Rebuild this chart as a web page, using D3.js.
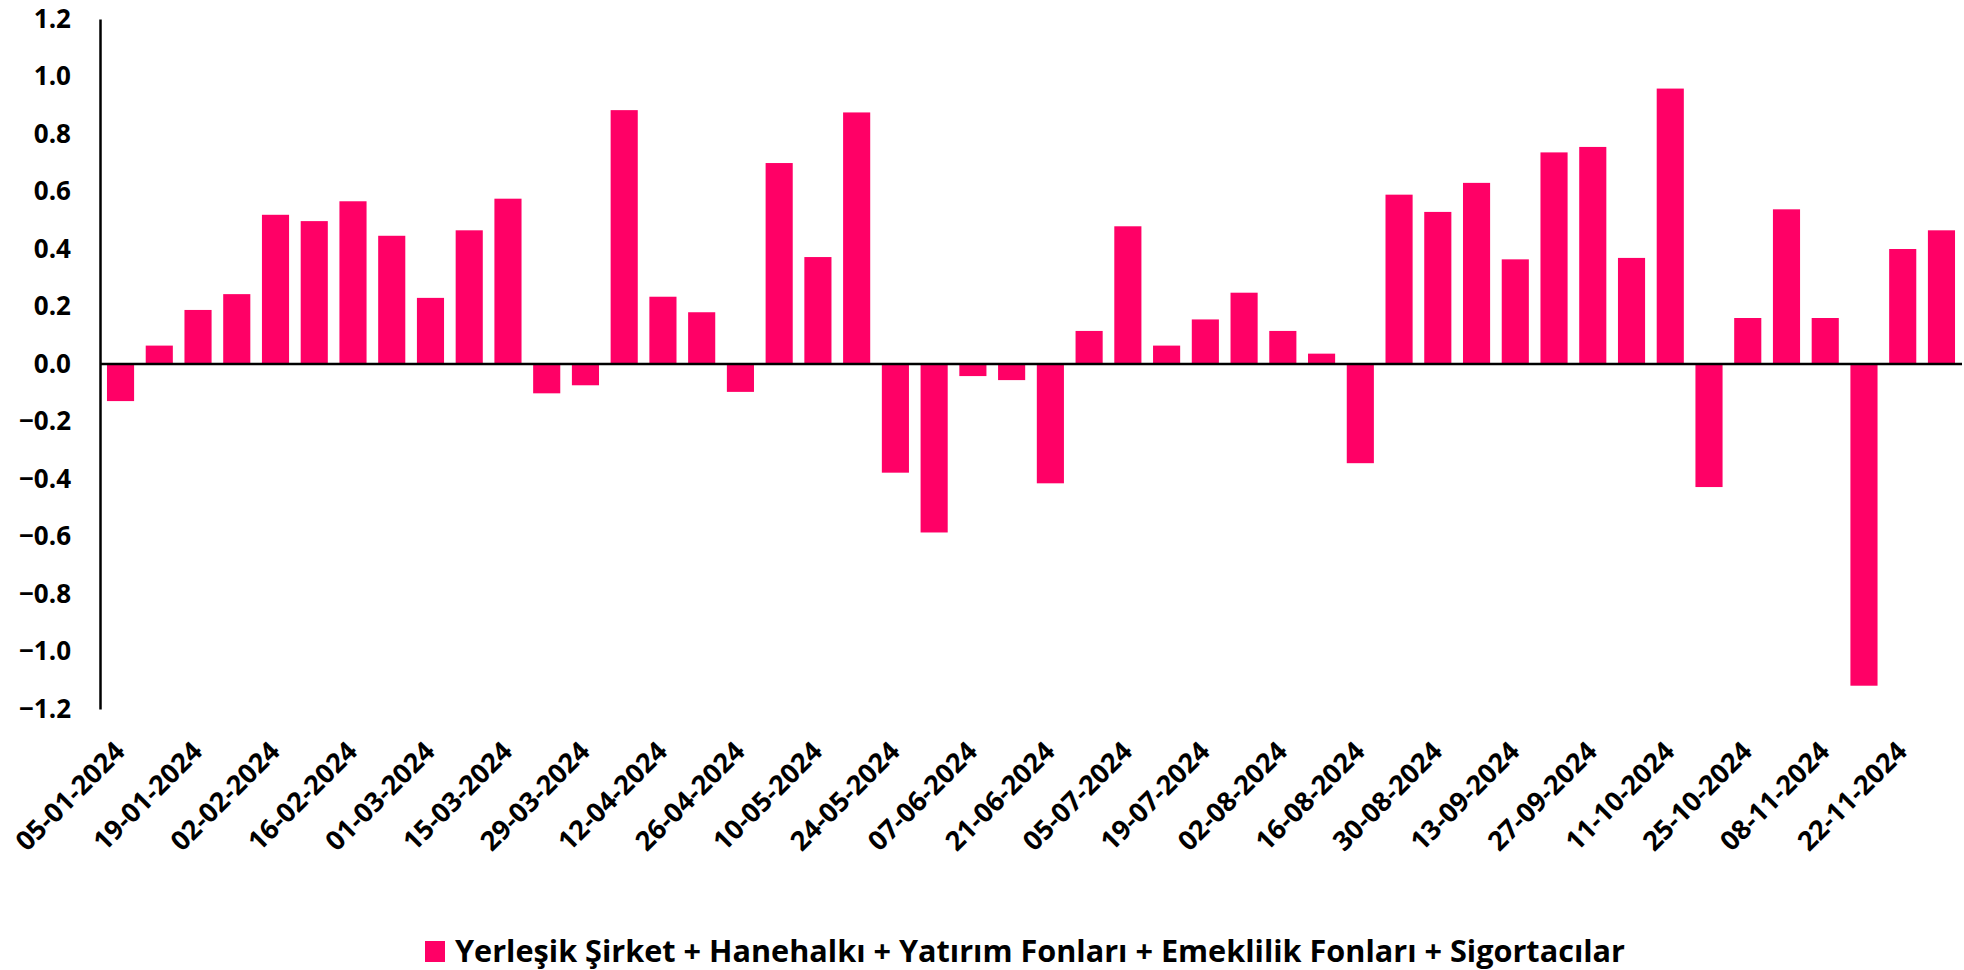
<!DOCTYPE html>
<html>
<head>
<meta charset="utf-8">
<script src="https://cdn.jsdelivr.net/npm/d3@7"></script>
<style>
    body { margin: 0; background: #FFFFFF; }
</style>
</head>
<body>
<div class="chart-container"></div>
<script>
// Weekly dates (categories)
const dates = [
    "05-01-2024", "12-01-2024", "19-01-2024", "26-01-2024", "02-02-2024", "09-02-2024",
    "16-02-2024", "23-02-2024", "01-03-2024", "08-03-2024", "15-03-2024", "22-03-2024",
    "29-03-2024", "05-04-2024", "12-04-2024", "19-04-2024", "26-04-2024", "03-05-2024",
    "10-05-2024", "17-05-2024", "24-05-2024", "31-05-2024", "07-06-2024", "14-06-2024",
    "21-06-2024", "28-06-2024", "05-07-2024", "12-07-2024", "19-07-2024", "26-07-2024",
    "02-08-2024", "09-08-2024", "16-08-2024", "23-08-2024", "30-08-2024", "06-09-2024",
    "13-09-2024", "20-09-2024", "27-09-2024", "04-10-2024", "11-10-2024", "18-10-2024",
    "25-10-2024", "01-11-2024", "08-11-2024", "15-11-2024", "22-11-2024", "29-11-2024"
];

// Series values
const values = [
    -0.129, 0.064, 0.188, 0.243, 0.519, 0.497,
    0.566, 0.446, 0.230, 0.465, 0.575, -0.102,
    -0.074, 0.883, 0.234, 0.180, -0.097, 0.699,
    0.372, 0.875, -0.378, -0.586, -0.042, -0.056,
    -0.415, 0.115, 0.479, 0.064, 0.155, 0.248,
    0.115, 0.036, -0.345, 0.589, 0.529, 0.630,
    0.364, 0.736, 0.755, 0.369, 0.958, -0.428,
    0.160, 0.538, 0.160, -1.119, 0.400, 0.465
];

// Y tick labels
const yTicks = [-1.2, -1.0, -0.8, -0.6, -0.4, -0.2, 0.0, 0.2, 0.4, 0.6, 0.8, 1.0, 1.2];

const seriesName = "Yerleşik Şirket + Hanehalkı + Yatırım Fonları + Emeklilik Fonları + Sigortacılar";

const data = dates.map((d, i) => ({ date: d, value: values[i] }));

const width = 1964;
const height = 970;
const plot = { left: 100, right: 1962, top: 19, bottom: 709 };
const barColor = "#FF0066";
const fontFamily = "'Open Sans', Lato, sans-serif";

const svg = d3.select(".chart-container")
    .append("svg")
        .attr("width", width)
        .attr("height", height)
        .attr("viewBox", `0 0 ${width} ${height}`);

// Scales
const xScale = d3.scaleBand()
    .domain(dates)
    .range([plot.left, plot.right])
    .paddingInner(0.3)
    .paddingOuter(0.18);

const yScale = d3.scaleLinear()
    .domain([-1.2, 1.2])
    .range([plot.bottom, plot.top]);

// Bars
svg
    .append("g")
    .selectAll("rect")
    .data(data)
    .join("rect")
        .attr("x", d => xScale(d.date))
        .attr("y", d => yScale(Math.max(0, d.value)))
        .attr("width", xScale.bandwidth())
        .attr("height", d => Math.abs(yScale(d.value) - yScale(0)))
        .attr("fill", barColor);

// Y axis
const yAxis = d3.axisLeft(yScale)
    .tickValues(yTicks)
    .tickFormat(d3.format(".1f"))
    .tickSize(0)
    .tickPadding(29);

svg
    .append("g")
        .attr("transform", `translate(${plot.left}, 0)`)
        .call(yAxis)
        .call(g => g.select(".domain")
            .attr("stroke", "#000000")
            .attr("stroke-width", 2.5))
        .call(g => g.selectAll("text")
            .style("font-family", fontFamily)
            .style("font-weight", "bold")
            .style("font-size", "26px")
            .style("fill", "#000000"));

// Zero line
svg
    .append("line")
        .attr("x1", plot.left)
        .attr("x2", plot.right)
        .attr("y1", yScale(0))
        .attr("y2", yScale(0))
        .attr("stroke", "#000000")
        .attr("stroke-width", 2.5);

// X labels (every second week), placed below the plot
svg
    .append("g")
    .selectAll("text")
    .data(dates.filter((d, i) => i % 2 === 0))
    .join("text")
        .text(d => d)
        .attr("transform", d => `translate(${xScale(d) + xScale.bandwidth() / 2 + 6}, 753) rotate(-45)`)
        .attr("text-anchor", "end")
        .style("font-family", fontFamily)
        .style("font-weight", "bold")
        .style("font-size", "27px")
        .style("fill", "#000000");

// Legend
const legend = svg
    .append("g")
        .attr("transform", "translate(425, 941)");

legend
    .append("rect")
        .attr("width", 20)
        .attr("height", 21)
        .attr("fill", barColor);

legend
    .append("text")
        .text(seriesName)
        .attr("x", 30)
        .attr("y", 21)
        .attr("textLength", 1170)
        .attr("lengthAdjust", "spacingAndGlyphs")
        .style("font-family", fontFamily)
        .style("font-weight", "bold")
        .style("font-size", "30px")
        .style("fill", "#000000");
</script>
</body>
</html>
